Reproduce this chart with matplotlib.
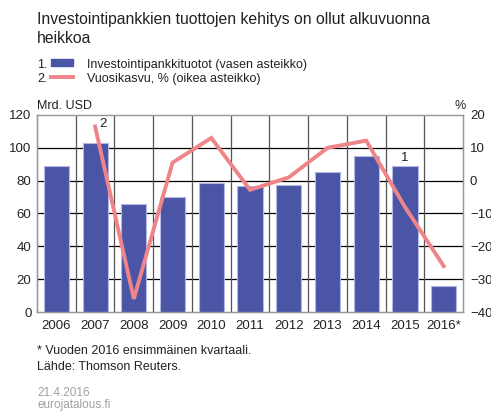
import numpy as np
import matplotlib.pyplot as plt

plt.rcParams['font.family'] = ['Liberation Sans', 'DejaVu Sans']

years = ['2006', '2007', '2008', '2009', '2010', '2011', '2012', '2013', '2014', '2015', '2016*']
revenue = [89, 103, 66, 70, 78.5, 76.5, 77.5, 85, 95, 89, 16]
growth = [None, 16.5, -36, 5.5, 13, -2.8, 1.0, 10, 12.2, -8, -26]

bar_color = '#4b55a5'
line_color = '#ef8589'
grid_grey = '#555555'

fig = plt.figure(figsize=(4.91, 4.12), dpi=100)
ax = fig.add_axes([0.0754, 0.2427, 0.8676, 0.4782])
ax2 = ax.twinx()

x = np.arange(len(years))
ax.bar(x, revenue, width=0.65, color=bar_color, edgecolor='#b4b8e0', linewidth=0.8, zorder=3)
ax.set_xlim(-0.5, len(years) - 0.5)
ax.set_ylim(0, 120)
ax.set_yticks(range(0, 121, 20))
ax.set_xticks(x)
ax.set_xticklabels(years)

# grids: horizontal black, vertical between categories
for y in range(20, 120, 20):
    ax.axhline(y, color='black', lw=0.9, zorder=1)
for b in np.arange(0.5, len(years) - 1, 1):
    ax.axvline(b, color=grid_grey, lw=0.9, zorder=1)

gx = [i for i, g in enumerate(growth) if g is not None]
gy = [g for g in growth if g is not None]
ax2.plot(gx, gy, color=line_color, lw=2.8, solid_joinstyle='miter', zorder=4)
ax2.set_ylim(-40, 20)
ax2.set_yticks(range(-40, 21, 10))
ax2.set_yticklabels([str(v).replace('-', '\u2212') for v in range(-40, 21, 10)])

for a in (ax, ax2):
    for s in a.spines.values():
        s.set_color('#999999')
        s.set_linewidth(0.9)
    a.tick_params(length=0, labelsize=9.5, colors='#222222')
ax.spines['left'].set_color('#444444')
ax.tick_params(axis='x', pad=6)
ax.tick_params(axis='y', pad=4)
ax2.tick_params(axis='y', pad=5)

ax2.text(1.12, 16.2, '2', fontsize=9.5, color='#222222')
ax.text(9, 92, '1', fontsize=9.5, color='#222222', ha='center')

# titles and legend
fig.text(0.0754, 0.942, 'Investointipankkien tuottojen kehitys on ollut alkuvuonna', fontsize=11.3, color='#222222')
fig.text(0.0754, 0.895, 'heikkoa', fontsize=11.3, color='#222222')

fig.text(0.0754, 0.836, '1.', fontsize=9, color='#222222')
fig.text(0.0754, 0.802, '2.', fontsize=9, color='#222222')
fig.patches.append(plt.Rectangle((0.104, 0.839), 0.045, 0.018, color=bar_color, transform=fig.transFigure, figure=fig))
fig.lines.append(plt.Line2D([0.104, 0.149], [0.812, 0.812], color=line_color, lw=2.8, transform=fig.transFigure, figure=fig))
fig.text(0.177, 0.836, 'Investointipankkituotot (vasen asteikko)', fontsize=9, color='#222222')
fig.text(0.177, 0.802, 'Vuosikasvu, % (oikea asteikko)', fontsize=9, color='#222222')

fig.text(0.0754, 0.736, 'Mrd. USD', fontsize=9, color='#222222')
fig.text(0.925, 0.736, '%', fontsize=9, color='#222222')

fig.text(0.0754, 0.140, '* Vuoden 2016 ensimmäinen kvartaali.', fontsize=9, color='#222222')
fig.text(0.0754, 0.101, 'Lähde: Thomson Reuters.', fontsize=9, color='#222222')
fig.text(0.0754, 0.038, '21.4.2016', fontsize=8.5, color='#a0a0a0')
fig.text(0.0754, 0.010, 'eurojatalous.fi', fontsize=8.5, color='#a0a0a0')

fig.savefig('out.png', dpi=100)
